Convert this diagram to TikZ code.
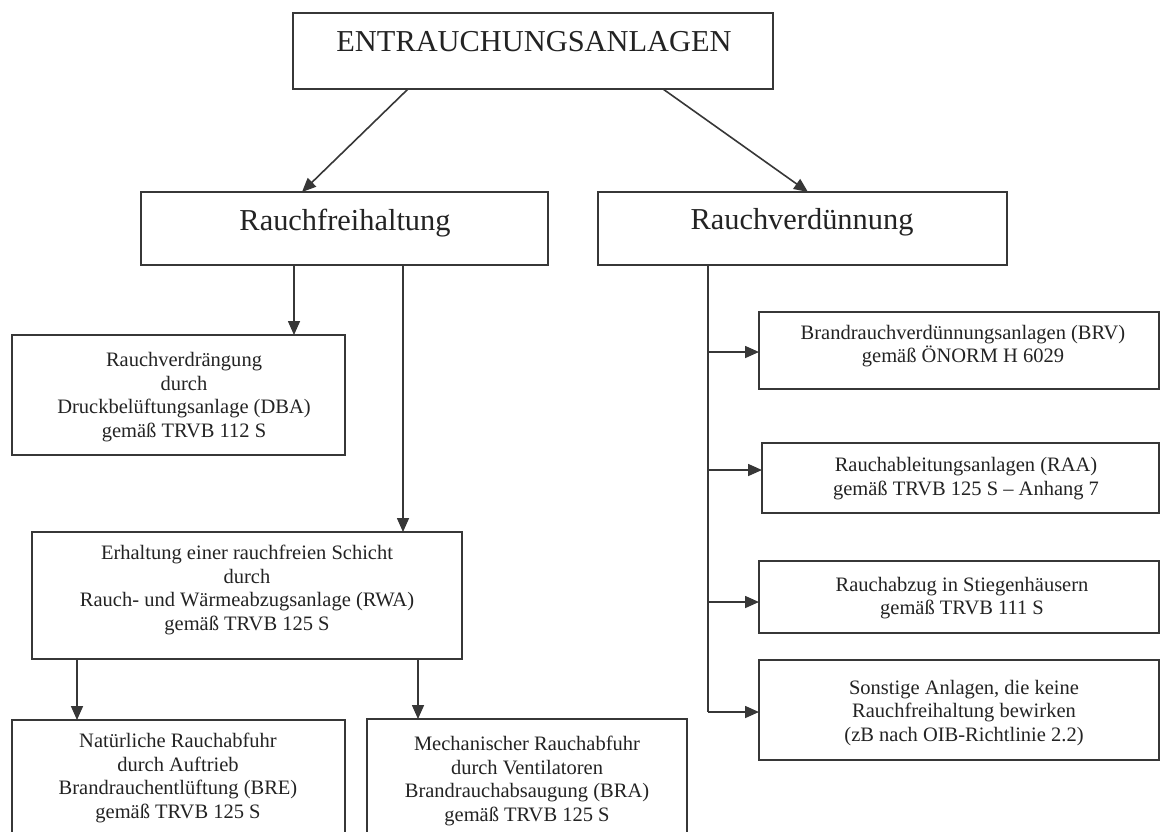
\documentclass[tikz,border=0pt]{standalone}
\usepackage{fontspec}
\setmainfont{Liberation Serif}
\usetikzlibrary{arrows.meta}
\definecolor{ink}{RGB}{35,35,35}
\definecolor{edge}{RGB}{55,55,55}
\begin{document}
\begin{tikzpicture}[x=1pt,y=-1pt,
  box/.style={draw=edge, line width=1.6pt, inner sep=0pt, outer sep=0pt},
  big/.style={font=\fontsize{30.4}{34}\selectfont, text=ink, inner sep=0pt},
  small/.style={font=\fontsize{20.5}{23.5}\selectfont, text=ink, inner sep=0pt, align=center},
  arr/.style={draw=edge, line width=1.6pt, -{Triangle[length=14pt,width=12pt]}},
  conn/.style={draw=edge, line width=1.6pt}]
\useasboundingbox (0,0) rectangle (1161,831);
\clip (0,0) rectangle (1161,831);
\fill[white] (0,0) rectangle (1161,831);

% boxes
\node[box, minimum width=480pt, minimum height=76pt] (top) at (533,51) {};
\node[box, minimum width=407pt, minimum height=73pt] (rf) at (344.5,228.5) {};
\node[box, minimum width=409pt, minimum height=73pt] (rv) at (802.5,228.5) {};
\node[box, minimum width=333pt, minimum height=120pt] (dba) at (178.5,395) {};
\node[box, minimum width=430pt, minimum height=127pt] (rwa) at (247,595.5) {};
\node[box, minimum width=333pt, minimum height=180pt] (bre) at (178.5,810) {};
\node[box, minimum width=320pt, minimum height=180pt] (bra) at (527,809) {};
\node[box, minimum width=400pt, minimum height=77pt] (brv) at (959,350.5) {};
\node[box, minimum width=397pt, minimum height=70pt] (raa) at (960.5,478) {};
\node[box, minimum width=400pt, minimum height=72pt] (stg) at (959,597) {};
\node[box, minimum width=400pt, minimum height=100pt] (son) at (959,710) {};

% texts
\node[big] (ttop) at (534,42) {ENTRAUCHUNGSANLAGEN};
\node[big] (trf) at (345,223) {Rauchfreihaltung};
\node[big] (trv) at (802,222) {Rauchverdünnung};
\node[small] (tdba) at (184,397) {Rauchverdrängung\\durch\\Druckbelüftungsanlage (DBA)\\gemäß TRVB 112 S};
\node[small] (trwa) at (247,590) {Erhaltung einer rauchfreien Schicht\\durch\\Rauch- und Wärmeabzugsanlage (RWA)\\gemäß TRVB 125 S};
\node[small] (tbre) at (178,778) {Natürliche Rauchabfuhr\\durch Auftrieb\\Brandrauchentlüftung (BRE)\\gemäß TRVB 125 S};
\node[small] (tbra) at (527,781) {Mechanischer Rauchabfuhr\\durch Ventilatoren\\Brandrauchabsaugung (BRA)\\gemäß TRVB 125 S};
\node[small] (tbrv) at (963,346) {Brandrauchverdünnungsanlagen (BRV)\\gemäß ÖNORM H 6029};
\node[small] (traa) at (966,478.5) {Rauchableitungsanlagen (RAA)\\gemäß TRVB 125 S – Anhang 7};
\node[small] (tstg) at (962,598) {Rauchabzug in Stiegenhäusern\\gemäß TRVB 111 S};
\node[small] (tson) at (964,713) {Sonstige Anlagen, die keine\\Rauchfreihaltung bewirken\\(zB nach OIB-Richtlinie 2.2)};

% connectors
\draw[arr] ([xshift=-125pt]top.south) -- ([xshift=-42.5pt]rf.north);
\draw[arr] ([xshift=130pt]top.south) -- ([xshift=5.5pt]rv.north);
\draw[arr] ([xshift=-50.5pt]rf.south) -- ([xshift=-50.5pt]rf.south |- dba.north);
\draw[arr] ([xshift=58.5pt]rf.south) -- ([xshift=58.5pt]rf.south |- rwa.north);
\draw[arr] ([xshift=-170pt]rwa.south) -- ([xshift=-170pt]rwa.south |- bre.north);
\draw[arr] ([xshift=171pt]rwa.south) -- ([xshift=171pt]rwa.south |- bra.north);
\coordinate (trunk) at ([xshift=-94.5pt]rv.south);
\draw[conn] (trunk) -- (trunk |- 0,712);
\draw[arr] (trunk |- 0,352) -- (brv.west |- 0,352);
\draw[arr] (trunk |- 0,470) -- (raa.west |- 0,470);
\draw[arr] (trunk |- 0,602) -- (stg.west |- 0,602);
\draw[arr] (trunk |- 0,712) -- (son.west |- 0,712);
\end{tikzpicture}
\end{document}
